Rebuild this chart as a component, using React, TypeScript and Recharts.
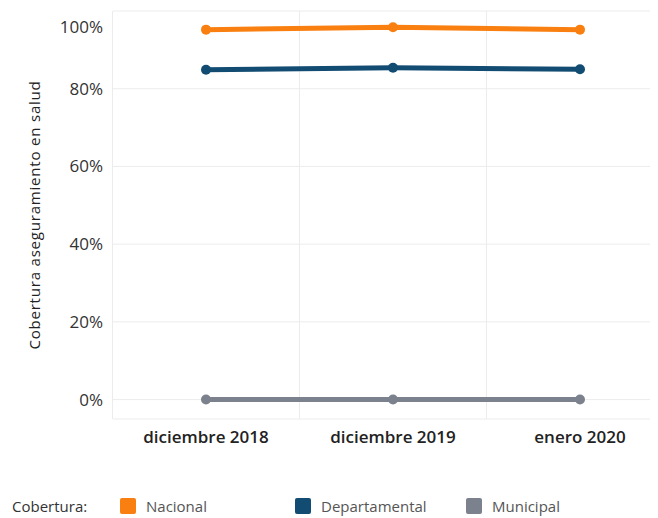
import React from 'react';
import { LineChart, Line, XAxis, YAxis, CartesianGrid, Legend } from 'recharts';

const periods = ['diciembre 2018', 'diciembre 2019', 'enero 2020'];
const nacional = [0.952, 0.958, 0.952];
const departamental = [0.849, 0.854, 0.85];
const municipal = [0.0, 0.0, 0.0];
const yTicks = [0, 0.2, 0.4, 0.6, 0.8, 1];

const SERIES = [
    { key: 'nacional', name: 'Nacional', color: '#f98010', values: nacional },
    { key: 'departamental', name: 'Departamental', color: '#124c72', values: departamental },
    { key: 'municipal', name: 'Municipal', color: '#7c828d', values: municipal },
];

const data = periods.map((p, i) => {
    const row: Record<string, string | number> = { name: p };
    SERIES.forEach(s => { row[s.key] = s.values[i]; });
    return row;
});

const PAD_LEFT = 93;
const PAD_RIGHT = 78;
const FONT = '"Open Sans", "Noto Sans", sans-serif';

// top label gets pushed down a bit so it isn't clipped
const YTick = ({ x, y, payload }: any) => (
    <text
        x={x}
        y={y}
        dy={payload.value === 1 ? 16 : 6}
        textAnchor="end"
        fontSize={17}
        fill="#333"
        fontFamily={FONT}
    >
        {`${Math.round(payload.value * 100)}%`}
    </text>
);

const LegendContent = () => (
    <div style={{ display: 'flex', alignItems: 'center', fontFamily: FONT, fontSize: 15, color: '#555', paddingTop: 22 }}>
        <span style={{ marginLeft: 4, width: 108, color: '#333' }}>Cobertura:</span>
        {SERIES.map((s, i) => (
            <span key={s.key} style={{ display: 'flex', alignItems: 'center', width: i === 0 ? 175 : i === 1 ? 171 : 100 }}>
                <span style={{ width: 16, height: 16, background: s.color, borderRadius: 2, marginRight: 10, display: 'inline-block' }} />
                {s.name}
            </span>
        ))}
    </div>
);

export default function App() {
    return (
        <LineChart width={650} height={510} data={data} margin={{ top: 3, right: 0, left: 20, bottom: 0 }}>
            <CartesianGrid
                stroke="#ececec"
                verticalCoordinatesGenerator={({ offset }: any) => {
                    const step = (offset.width - PAD_LEFT - PAD_RIGHT) / (periods.length - 1);
                    return periods.map((_, i) => offset.left + PAD_LEFT - step / 2 + i * step);
                }}
            />
            <XAxis
                dataKey="name"
                padding={{ left: PAD_LEFT, right: PAD_RIGHT }}
                axisLine={false}
                tickLine={false}
                height={55}
                tickMargin={6}
                tick={{ fontSize: 17, fill: '#222', fontWeight: 600, fontFamily: FONT }}
            />
            <YAxis
                width={85}
                domain={[-0.05, 1]}
                ticks={yTicks}
                axisLine={false}
                tickLine={false}
                tickMargin={4}
                tick={<YTick />}
                label={{
                    value: 'Cobertura aseguramiento en salud',
                    angle: -90,
                    position: 'center',
                    dx: -36,
                    style: { fontSize: 15, fill: '#222', fontFamily: FONT, letterSpacing: 0.8 },
                }}
            />
            <Legend verticalAlign="bottom" height={44} wrapperStyle={{ left: 0, width: 650 }} content={<LegendContent />} />
            {SERIES.map(s => (
                <Line
                    key={s.key}
                    dataKey={s.key}
                    name={s.name}
                    stroke={s.color}
                    strokeWidth={5}
                    dot={{ r: 5, fill: s.color, stroke: s.color, strokeWidth: 0 }}
                    activeDot={false}
                    isAnimationActive={false}
                />
            ))}
        </LineChart>
    );
}
